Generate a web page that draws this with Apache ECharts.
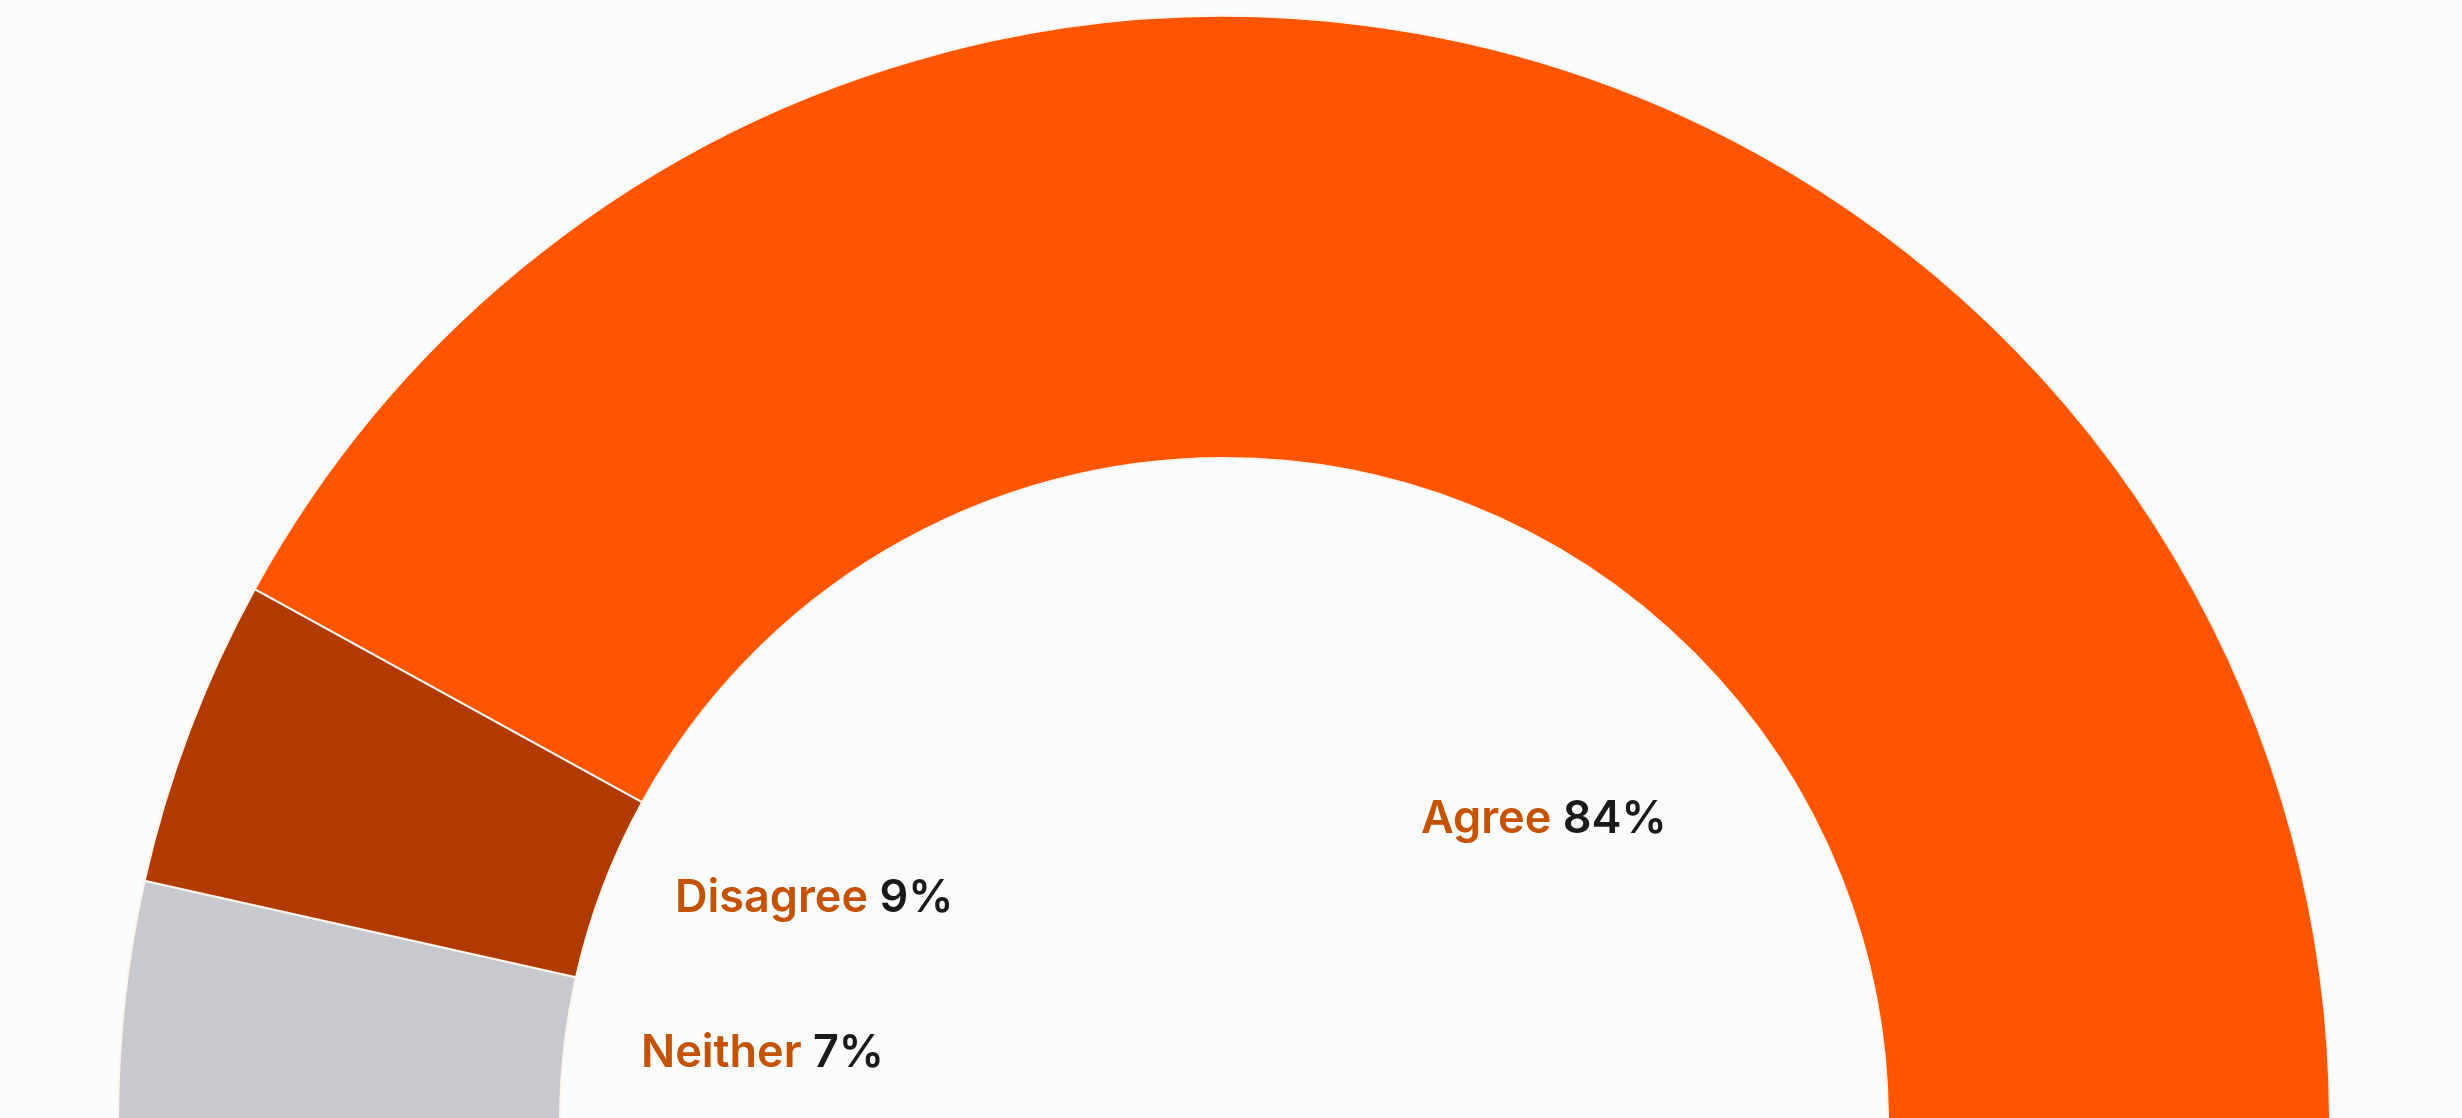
<!DOCTYPE html>
<html>
<head>
<meta charset="utf-8">
<style>
html,body{margin:0;padding:0;background:#FBFCFC;}
#chart{width:2462px;height:1118px;}
</style>
<script src="https://cdn.jsdelivr.net/npm/echarts@6/dist/echarts.min.js"></script>
</head>
<body>
<div id="chart"></div>
<script>
const categories = ['Neither', 'Disagree', 'Agree'];
const values = [7, 9, 84];
const sliceColors = ['#C8C9CF', '#B03A00', '#FF5500'];

const labelAnchors = [
  { x: 641, y: 1053 },
  { x: 675, y: 898 },
  { x: 1421, y: 819 }
];

const chart = echarts.init(document.getElementById('chart'), null, { renderer: 'canvas' });
chart.setOption({
  backgroundColor: '#FBFCFC',
  animation: false,
  series: [{
    type: 'pie',
    center: [1224, 1122],
    radius: [664, 1106],
    startAngle: 180,
    endAngle: 0,
    clockwise: true,
    avoidLabelOverlap: false,
    silent: true,
    itemStyle: { borderColor: '#FFF4EC', borderWidth: 2 },
    label: {
      show: true,
      position: 'outside',
      formatter: p => '{n|' + p.name + '}{v|\u00A0' + p.value + '%}',
      rich: {
        n: { fontFamily: 'Inter', fontWeight: 600, fontSize: 45, color: '#C45200' },
        v: { fontFamily: 'Inter', fontWeight: 600, fontSize: 45, color: '#1A1A1A' }
      }
    },
    labelLine: { show: false },
    labelLayout: function (params) {
      const a = labelAnchors[params.dataIndex];
      return { x: a.x, y: a.y, align: 'left', verticalAlign: 'middle' };
    },
    data: categories.map((c, i) => ({ name: c, value: values[i], itemStyle: { color: sliceColors[i] } }))
  }]
});
</script>
</body>
</html>
